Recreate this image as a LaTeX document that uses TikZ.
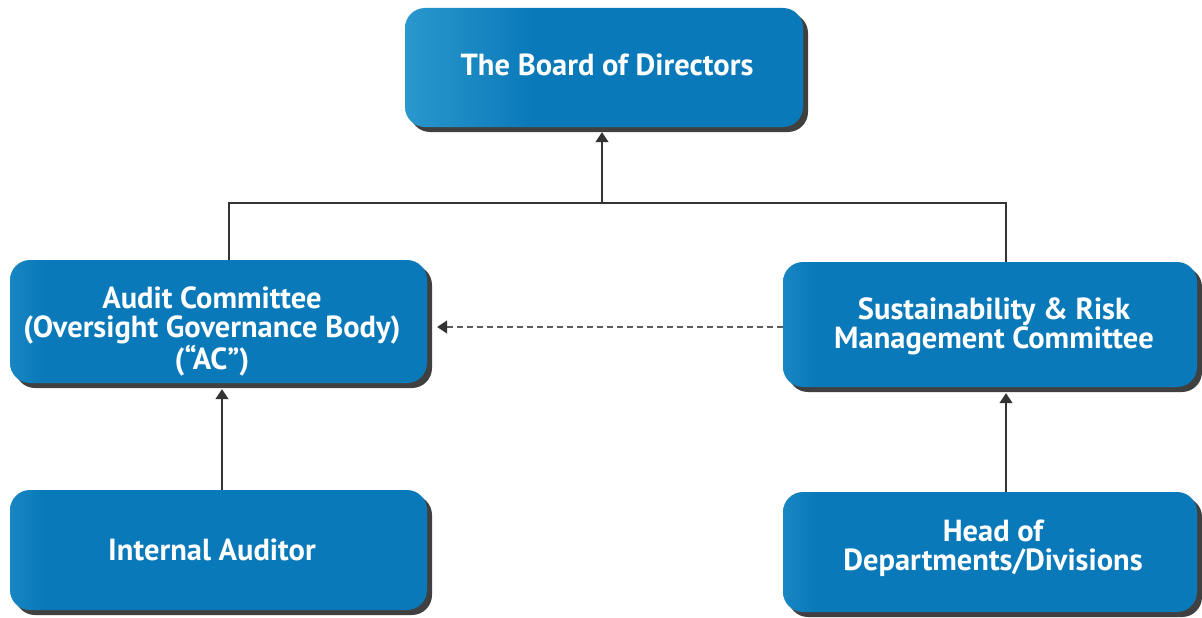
\documentclass[tikz,border=0pt]{standalone}
\usepackage{fontspec}
\setmainfont{PT Sans}
\usetikzlibrary{arrows.meta,shadows}
\definecolor{base}{HTML}{0A79B9}
\definecolor{liteA}{HTML}{2A98CD}
\definecolor{liteB}{HTML}{1886C2}
\definecolor{shd}{HTML}{404040}
\definecolor{ln}{HTML}{333333}
\pgfdeclarehorizontalshading{boardshade}{100bp}{color(0bp)=(liteA); color(25bp)=(liteA); color(41bp)=(base); color(100bp)=(base)}
\pgfdeclarehorizontalshading{boxshade}{100bp}{color(0bp)=(liteB); color(25bp)=(liteB); color(29bp)=(base); color(100bp)=(base)}
\begin{document}
\begin{tikzpicture}[x=1pt,y=-1pt,
  box/.style={rounded corners=20pt, shading=boxshade, draw=none, inner sep=0pt,
    drop shadow={shadow xshift=5pt, shadow yshift=-5pt, fill=shd, opacity=1}},
  txt/.style={text=white, font=\bfseries\fontsize{30.5}{28.8}\selectfont, align=center, inner sep=0pt},
  conn/.style={draw=ln, line width=1.4pt},
  arr/.style={conn, -{Triangle[width=13pt,length=10pt]}},
  darr/.style={draw=ln!80, line width=1.4pt, dash pattern=on 6pt off 4pt, -{Triangle[width=13pt,length=10pt,color=ln]}}]
\useasboundingbox (0,0) rectangle (1202,618);
% boxes
\node[box, shading=boardshade, minimum width=398pt, minimum height=119pt] (board) at (604,67.5) {};
\node[box, minimum width=417pt, minimum height=123pt] (audit) at (218.5,321.5) {};
\node[box, minimum width=414pt, minimum height=125pt] (sust) at (990,324.5) {};
\node[box, minimum width=417pt, minimum height=120pt] (ia) at (218.5,550) {};
\node[box, minimum width=414pt, minimum height=120pt] (head) at (990,552) {};
% texts
\node[txt] (boardt) at (607,65) {The Board of Directors};
\node[txt] (auditt) at (212,331.5) {Audit Committee\\(Oversight Governance Body)\\(“AC”)};
\node[txt] (sustt) at (994,326) {Sustainability \& Risk\\Management Committee};
\node[txt] (iat) at (212,550) {Internal Auditor};
\node[txt] (headt) at (993,548.5) {Head of\\Departments/Divisions};
% connectors
\coordinate (j) at (602,203);
\coordinate (jl) at (229,203);
\coordinate (jr) at (1006,203);
\draw[arr] (j) -- ([yshift=-5pt]board.south -| j);
\draw[conn] (audit.north -| jl) -- (jl) -- (jr) -- (sust.north -| jr);
\draw[arr] (ia.north -| 222,0) -- ([yshift=-6pt]audit.south -| 222,0);
\draw[arr] (head.north -| 1006,0) -- ([yshift=-6pt]sust.south -| 1006,0);
\draw[darr] (sust.west |- 0,327) -- ([xshift=10pt]audit.east |- 0,327);
\end{tikzpicture}
\end{document}
